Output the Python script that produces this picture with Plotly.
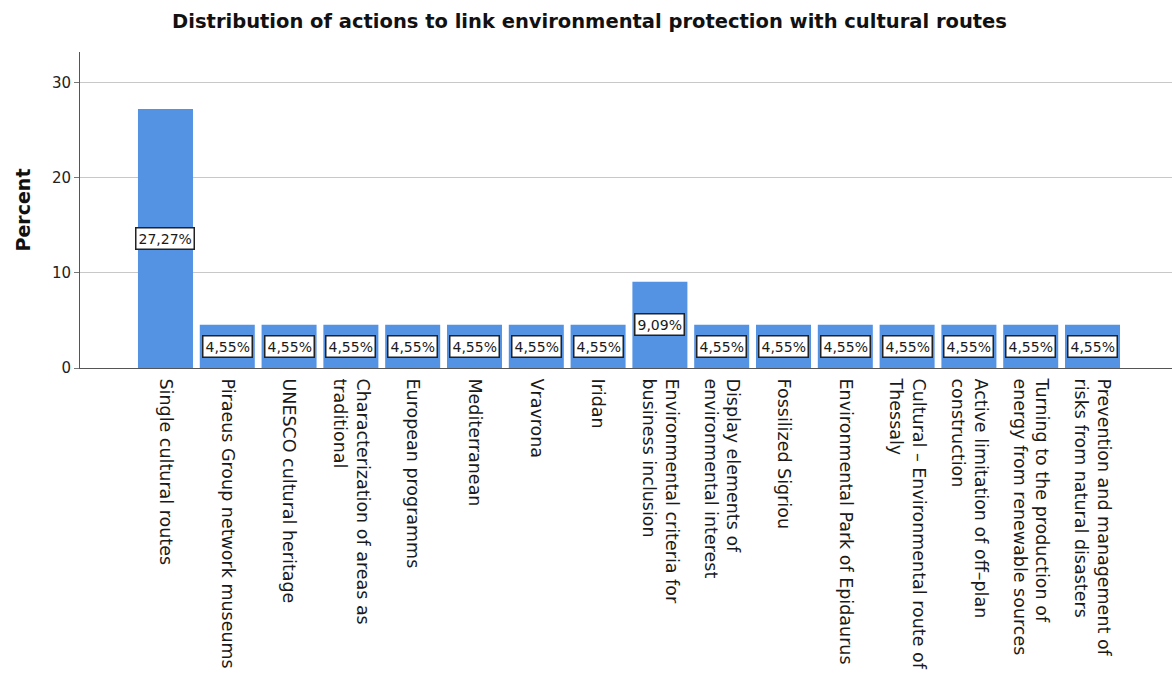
import plotly.graph_objects as go

# Categories (line breaks mark the wrapped axis labels)
categories = [
    "Single cultural routes",
    "Piraeus Group network museums",
    "UNESCO cultural heritage",
    "Characterization of areas as<br>traditional",
    "European programms",
    "Mediterranean",
    "Vravrona",
    "Iridan",
    "Environmental criteria for<br>business inclusion",
    "Display elements of<br>environmental interest",
    "Fossilized Sigriou",
    "Environmental Park of Epidaurus",
    "Cultural \u2013 Environmental route of<br>Thessaly",
    "Active limitation of off\u2013plan<br>construction",
    "Turning to the production of<br>energy from renewable sources",
    "Prevention and management of<br>risks from natural disasters",
]
percent = [27.27, 4.55, 4.55, 4.55, 4.55, 4.55, 4.55, 4.55,
           9.09, 4.55, 4.55, 4.55, 4.55, 4.55, 4.55, 4.55]
y_ticks = [0, 10, 20, 30]

BAR_COLOR = "#5492E4"
FONT = "DejaVu Sans"

fig = go.Figure()
fig.add_trace(go.Bar(
    x=categories,
    y=percent,
    width=0.89,
    marker=dict(color=BAR_COLOR, line=dict(width=0)),
    hoverinfo="skip",
))

# Boxed value labels in the middle of each bar
for cat, v in zip(categories, percent):
    fig.add_annotation(
        x=cat, y=v / 2,
        text=f"{v:.2f}".replace(".", ",") + "%",
        showarrow=False,
        font=dict(family=FONT, size=14, color="#1a1a1a"),
        bgcolor="white",
        bordercolor="#222222",
        borderwidth=1.5,
        borderpad=2,
        xanchor="center", yanchor="middle",
    )

fig.update_layout(
    width=1172, height=673,
    margin=dict(l=80, r=0, t=52, b=305),
    paper_bgcolor="white",
    plot_bgcolor="white",
    showlegend=False,
    title=dict(
        text="<b>Distribution of actions to link environmental protection with cultural routes</b>",
        x=0.503, xanchor="center",
        y=0.968, yanchor="middle",
        font=dict(family=FONT, size=19.5, color="#111111"),
    ),
    font=dict(family=FONT, color="#222222"),
)

fig.update_xaxes(
    type="category",
    range=[-1.383, 16.286],
    tickangle=90,
    tickfont=dict(family=FONT, size=17.5, color="#1a1a1a"),
    showline=True, linecolor="#555555", linewidth=1,
    showgrid=False,
    ticks="",
    ticklabelstandoff=6,
)

fig.update_yaxes(
    range=[0, 33.26],
    tickvals=y_ticks,
    ticktext=[str(t) for t in y_ticks],
    tickfont=dict(family=FONT, size=15, color="#222222"),
    showline=True, linecolor="#555555", linewidth=1,
    showgrid=True, gridcolor="#c8c8c8", gridwidth=1,
    zeroline=False,
    ticks="outside", ticklen=5, tickcolor="#777777",
    title=dict(text="<b>Percent</b>", font=dict(family=FONT, size=19, color="#111111"), standoff=16),
)

fig.write_html("out.html")
